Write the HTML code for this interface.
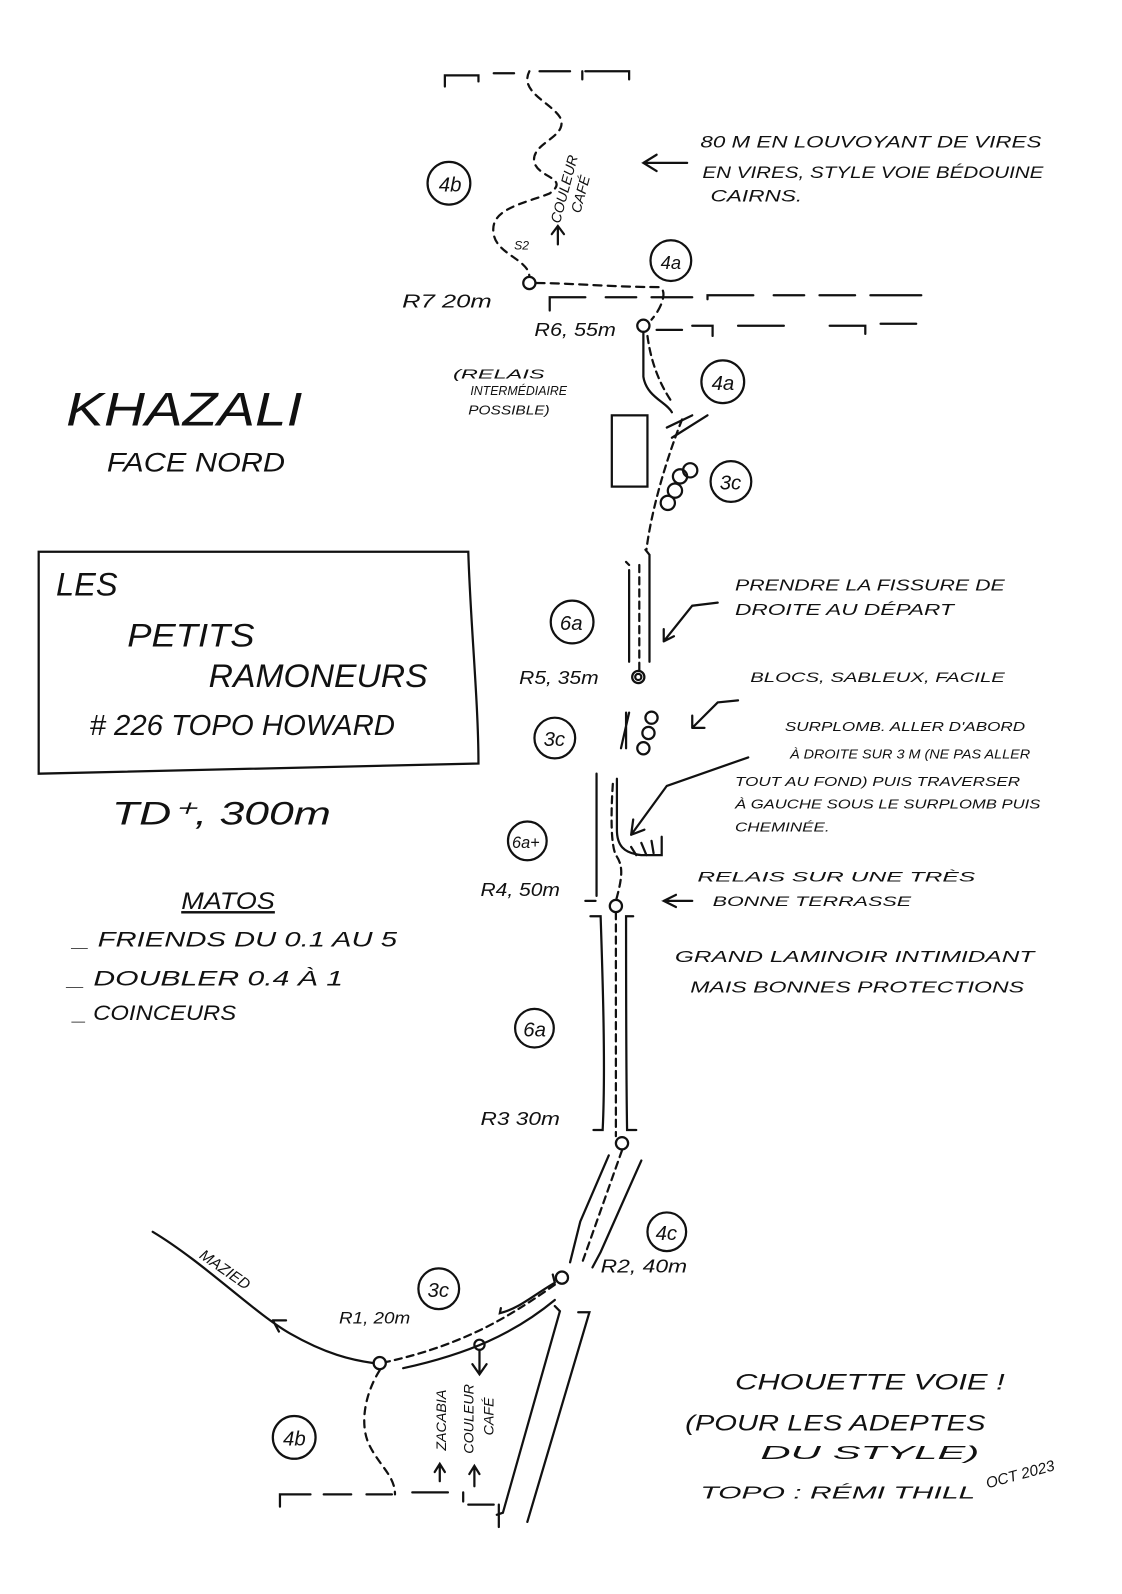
<!DOCTYPE html>
<html><head><meta charset="utf-8"><style>
html,body{margin:0;padding:0;background:#fff}
svg{display:block}
text{font-family:"Liberation Sans",sans-serif;font-style:italic;fill:#111}
</style></head><body>
<svg width="1122" height="1594" viewBox="0 0 1122 1594" xmlns="http://www.w3.org/2000/svg">
<rect width="1122" height="1594" fill="#fff"/>
<g transform="scale(1.018)">
<g fill="none" stroke="#111" stroke-width="2.2" stroke-linecap="round">
<path d="M437 85 V74 H470 V80 M485 72 H505 M530 70 H560 M572 70 V78 M575 70 H618 V78"/>
<path stroke-dasharray="7 6" d="M520 70 C510 90 540 100 550 115 C560 135 520 140 525 160 C530 175 560 175 540 190 C515 200 480 205 485 230 C488 250 520 255 520 272"/>
<circle cx="441" cy="180" r="21"/>
<path d="M548 240 V224 M542 230 L548 222 L554 230"/>
<path d="M632 160 H675 M645 152 L632 160 L645 168"/>
<circle cx="520" cy="278" r="6"/>
<path stroke-dasharray="8 6" d="M527 278 C560 278 600 282 648 282 C655 285 652 300 640 314"/>
<circle cx="659" cy="256" r="20"/>
<path d="M540 305 V292 H575 M595 292 H625 M640 292 H680 M695 294 V290 H740 M760 290 H790 M805 290 H840 M855 290 H905"/>
<path d="M645 324 H670 M680 320 H700 V330 M725 320 H770 M815 320 H850 V328 M865 318 H900"/>
<circle cx="632" cy="320" r="6"/>
<path d="M632 326 V370 C635 390 655 395 660 405"/>
<path stroke-dasharray="7 5" d="M636 330 C640 360 650 380 660 395"/>
<circle cx="710" cy="375" r="21"/>
<rect x="601" y="408" width="35" height="70"/>
<path d="M655 420 L680 408 M660 430 L695 408"/>
<path stroke-dasharray="7 5" d="M670 412 C655 450 640 500 635 540"/>
<circle cx="668" cy="468" r="7"/><circle cx="678" cy="462" r="7"/><circle cx="663" cy="482" r="7"/><circle cx="656" cy="494" r="7"/>
<circle cx="718" cy="473" r="20"/>
<path d="M38 542 H460 C462 610 470 690 470 750 L38 760 Z"/>
<circle cx="562" cy="611" r="21"/>
<path d="M618 560 V650 M638 545 V650 M618 555 L615 552 M638 545 L634 540"/>
<path stroke-dasharray="7 5" d="M628 555 V660"/>
<path d="M652 630 L680 595 L705 592 M652 630 V618 M652 630 L662 625"/>
<circle cx="627" cy="665" r="6"/><circle cx="627" cy="665" r="3"/>
<path d="M615 700 V735 M610 735 L618 700"/>
<circle cx="640" cy="705" r="6"/><circle cx="637" cy="720" r="6"/><circle cx="632" cy="735" r="6"/>
<circle cx="545" cy="725" r="20"/>
<path d="M680 715 L705 690 L725 688 M680 715 H692 M680 715 V703"/>
<path d="M586 760 V880 M606 765 V815 C606 830 612 838 630 840 H650 V822"/>
<path stroke-dasharray="7 5" d="M602 770 C600 800 600 830 605 840 C612 850 612 860 605 885"/>
<path d="M620 832 L625 840 M630 828 L635 840 M640 826 L642 838"/>
<path d="M620 820 L655 772 L735 744 M620 820 L622 805 M620 820 L633 815"/>
<circle cx="518" cy="826" r="19"/>
<circle cx="605" cy="890" r="6"/>
<path d="M652 885 H680 M664 879 L652 885 L664 891"/>
<path d="M575 885 H585 M580 900 H590 C592 960 595 1050 592 1110 H583 M622 900 H615 C615 960 615 1050 616 1110 H625"/>
<path stroke-dasharray="7 5" d="M605 896 V1116"/>
<circle cx="525" cy="1010" r="19"/>
<circle cx="611" cy="1123" r="6"/>
<path d="M598 1135 L570 1200 L560 1240 M630 1140 L590 1230 L582 1245"/>
<path stroke-dasharray="7 5" d="M611 1130 L572 1240"/>
<circle cx="655" cy="1210" r="19"/>
<circle cx="552" cy="1255" r="6"/>
<path d="M543 1252 L545 1260 C520 1275 510 1285 491 1290 L492 1285"/>
<path d="M396 1344 C460 1330 505 1310 545 1277"/>
<path stroke-dasharray="7 5" d="M545 1262 C505 1290 460 1320 379 1338"/>
<circle cx="431" cy="1266" r="20"/>
<path d="M150 1210 C200 1240 250 1290 285 1310 C320 1330 345 1336 367 1339 M268 1297 L281 1297 M268 1297 L274 1308"/>
<circle cx="373" cy="1339" r="6"/>
<circle cx="471" cy="1321" r="5"/>
<path d="M471 1326 V1348 M464 1340 L471 1350 L478 1340"/>
<path stroke-dasharray="7 6" d="M373 1346 C358 1370 353 1400 363 1420 C373 1440 388 1450 388 1468"/>
<circle cx="289" cy="1412" r="21"/>
<path d="M545 1283 L550 1288 L494 1486 L488 1488 M568 1289 H579 L518 1495"/>
<path d="M432 1455 V1438 M427 1446 L432 1438 L437 1446 M466 1460 V1440 M461 1448 L466 1440 L471 1448"/>
<path d="M275 1480 V1468 H305 M318 1468 H345 M360 1468 H385 M405 1466 H440 M455 1466 V1475 M460 1478 H485 M490 1478 V1500"/>
</g>
<text x="65" y="418" font-size="46" textLength="232" lengthAdjust="spacingAndGlyphs">KHAZALI</text>
<text x="105" y="463" font-size="26" textLength="175" lengthAdjust="spacingAndGlyphs">FACE NORD</text>
<text x="55" y="585" font-size="32">LES</text>
<text x="125" y="635" font-size="32" textLength="125" lengthAdjust="spacingAndGlyphs">PETITS</text>
<text x="205" y="675" font-size="32" textLength="215" lengthAdjust="spacingAndGlyphs">RAMONEURS</text>
<text x="88" y="722" font-size="28" textLength="300" lengthAdjust="spacingAndGlyphs"># 226 TOPO HOWARD</text>
<text x="110" y="810" font-size="32" textLength="215" lengthAdjust="spacingAndGlyphs">TD⁺, 300m</text>
<text x="178" y="893" font-size="24" text-decoration="underline" textLength="92" lengthAdjust="spacingAndGlyphs">MATOS</text>
<text x="72" y="930" font-size="21" textLength="318" lengthAdjust="spacingAndGlyphs">_ FRIENDS DU 0.1 AU 5</text>
<text x="67" y="968" font-size="21" textLength="270" lengthAdjust="spacingAndGlyphs">_ DOUBLER 0.4 À 1</text>
<text x="72" y="1002" font-size="21" textLength="160" lengthAdjust="spacingAndGlyphs">_ COINCEURS</text>
<text x="431" y="188" font-size="20">4b</text>
<text x="649" y="264" font-size="18">4a</text>
<text x="699" y="383" font-size="20">4a</text>
<text x="707" y="481" font-size="20">3c</text>
<text x="550" y="619" font-size="20">6a</text>
<text x="534" y="733" font-size="20">3c</text>
<text x="503" y="833" font-size="16">6a+</text>
<text x="514" y="1018" font-size="20">6a</text>
<text x="644" y="1218" font-size="20">4c</text>
<text x="420" y="1274" font-size="20">3c</text>
<text x="278" y="1420" font-size="20">4b</text>
<text x="395" y="302" font-size="18" textLength="88" lengthAdjust="spacingAndGlyphs">R7 20m</text>
<text x="525" y="330" font-size="18" textLength="80" lengthAdjust="spacingAndGlyphs">R6, 55m</text>
<text x="445" y="372" font-size="13" textLength="90" lengthAdjust="spacingAndGlyphs">(RELAIS</text>
<text x="462" y="388" font-size="13" textLength="95" lengthAdjust="spacingAndGlyphs">INTERMÉDIAIRE</text>
<text x="460" y="407" font-size="13" textLength="80" lengthAdjust="spacingAndGlyphs">POSSIBLE)</text>
<text x="510" y="672" font-size="18" textLength="78" lengthAdjust="spacingAndGlyphs">R5, 35m</text>
<text x="472" y="880" font-size="18" textLength="78" lengthAdjust="spacingAndGlyphs">R4, 50m</text>
<text x="472" y="1105" font-size="18" textLength="78" lengthAdjust="spacingAndGlyphs">R3 30m</text>
<text x="590" y="1250" font-size="18" textLength="85" lengthAdjust="spacingAndGlyphs">R2, 40m</text>
<text x="333" y="1300" font-size="16" textLength="70" lengthAdjust="spacingAndGlyphs">R1, 20m</text>
<text font-size="15" transform="translate(195 1235) rotate(35)">MAZIED</text>
<text font-size="14" transform="translate(550 220) rotate(-75)">COULEUR</text>
<text font-size="14" transform="translate(570 210) rotate(-75)">CAFÉ</text>
<text x="505" y="245" font-size="12">S2</text>
<text font-size="14" transform="translate(438 1425) rotate(-90)">ZACABIA</text>
<text font-size="14" transform="translate(465 1428) rotate(-90)">COULEUR</text>
<text font-size="14" transform="translate(485 1410) rotate(-90)">CAFÉ</text>
<text x="688" y="145" font-size="16" textLength="335" lengthAdjust="spacingAndGlyphs">80 M EN LOUVOYANT DE VIRES</text>
<text x="690" y="175" font-size="16" textLength="335" lengthAdjust="spacingAndGlyphs">EN VIRES, STYLE VOIE BÉDOUINE</text>
<text x="698" y="198" font-size="16" textLength="90" lengthAdjust="spacingAndGlyphs">CAIRNS.</text>
<text x="722" y="580" font-size="15" textLength="265" lengthAdjust="spacingAndGlyphs">PRENDRE LA FISSURE DE</text>
<text x="722" y="604" font-size="15" textLength="215" lengthAdjust="spacingAndGlyphs">DROITE AU DÉPART</text>
<text x="737" y="670" font-size="14" textLength="250" lengthAdjust="spacingAndGlyphs">BLOCS, SABLEUX, FACILE</text>
<text x="771" y="718" font-size="13" textLength="236" lengthAdjust="spacingAndGlyphs">SURPLOMB. ALLER D'ABORD</text>
<text x="776" y="745" font-size="13" textLength="236" lengthAdjust="spacingAndGlyphs">À DROITE SUR 3 M (NE PAS ALLER</text>
<text x="722" y="772" font-size="13" textLength="280" lengthAdjust="spacingAndGlyphs">TOUT AU FOND) PUIS TRAVERSER</text>
<text x="722" y="794" font-size="13" textLength="300" lengthAdjust="spacingAndGlyphs">À GAUCHE SOUS LE SURPLOMB PUIS</text>
<text x="722" y="817" font-size="13" textLength="93" lengthAdjust="spacingAndGlyphs">CHEMINÉE.</text>
<text x="685" y="866" font-size="14" textLength="273" lengthAdjust="spacingAndGlyphs">RELAIS SUR UNE TRÈS</text>
<text x="700" y="890" font-size="14" textLength="195" lengthAdjust="spacingAndGlyphs">BONNE TERRASSE</text>
<text x="663" y="945" font-size="15" textLength="353" lengthAdjust="spacingAndGlyphs">GRAND LAMINOIR INTIMIDANT</text>
<text x="678" y="975" font-size="15" textLength="328" lengthAdjust="spacingAndGlyphs">MAIS BONNES PROTECTIONS</text>
<text x="722" y="1365" font-size="22" textLength="265" lengthAdjust="spacingAndGlyphs">CHOUETTE VOIE !</text>
<text x="673" y="1405" font-size="22" textLength="295" lengthAdjust="spacingAndGlyphs">(POUR LES ADEPTES</text>
<text x="747" y="1433" font-size="18" textLength="215" lengthAdjust="spacingAndGlyphs">DU STYLE)</text>
<text x="688" y="1472" font-size="17" textLength="270" lengthAdjust="spacingAndGlyphs">TOPO : RÉMI THILL</text>
<text font-size="15" transform="translate(970 1462) rotate(-15)">OCT 2023</text>
</g>
</svg>
</body></html>
